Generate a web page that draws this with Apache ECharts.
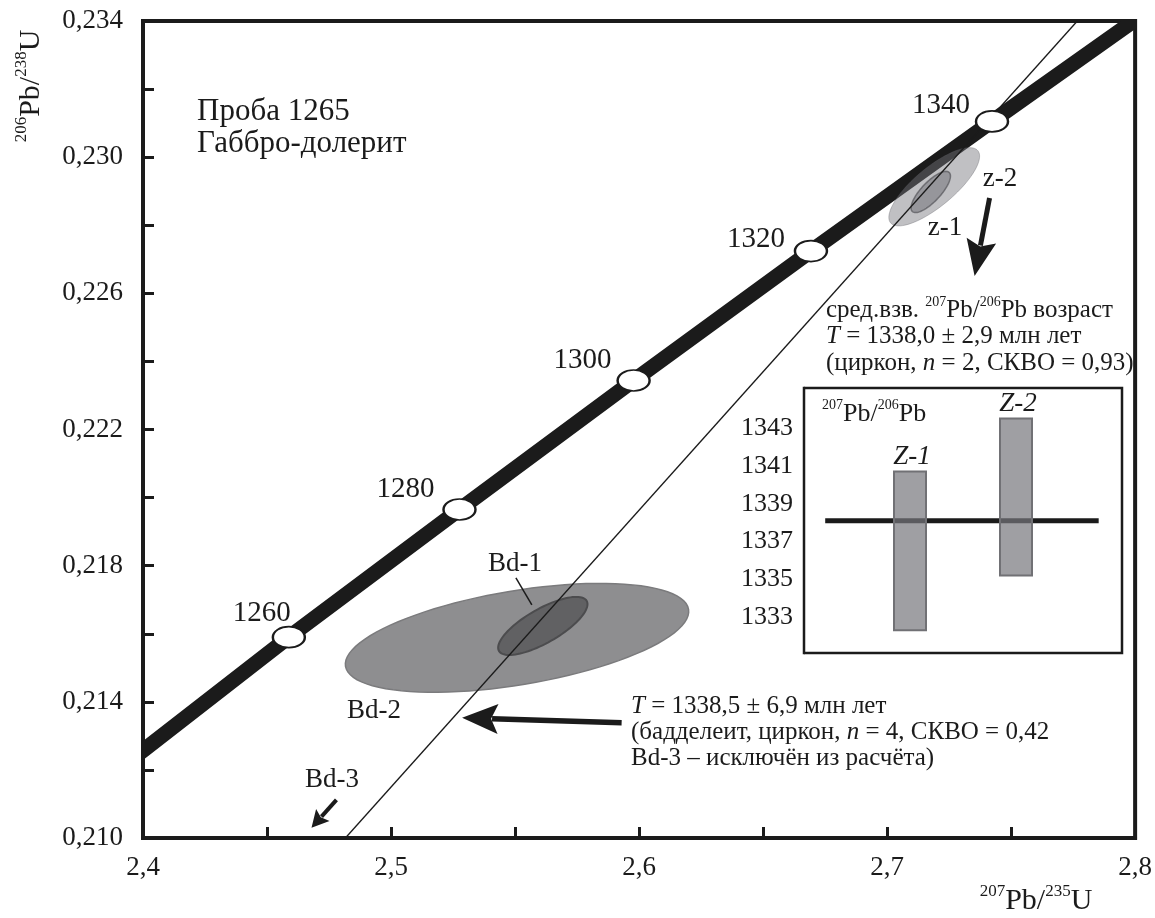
<!DOCTYPE html>
<html><head><meta charset="utf-8">
<script src="https://cdn.jsdelivr.net/npm/echarts@6/dist/echarts.min.js"></script>
<style>html,body{margin:0;padding:0;background:#fff}#c{width:1155px;height:918px}</style>
</head><body><div id="c"></div>
<script>
// ---------------- data ----------------
// Concordia curve points (207Pb/235U , 206Pb/238U)
const concordiaX = [2.39, 2.400, 2.4588, 2.5276, 2.5978, 2.6693, 2.7423, 2.800, 2.81];
const concordiaY = [0.21200, 0.21257, 0.21590, 0.21965, 0.22344, 0.22724, 0.23105, 0.23403, 0.23455];
// Age marks on the concordia (Ma)
const ageLabels = [1260, 1280, 1300, 1320, 1340];
const ageX = [2.4588, 2.5276, 2.5978, 2.6693, 2.7423];
const ageY = [0.21590, 0.21965, 0.22344, 0.22724, 0.23105];
// Discordia line
const discordiaX = [2.4816, 2.7767];
const discordiaY = [0.2100, 0.2340];
// Error ellipses: centre, semi-axis 1 (dx,dy), semi-axis 2 (dx,dy) in data units
const ellipseNames = ['Bd-2', 'Bd-1', 'z-2', 'z-1'];
const ellipseCx = [2.5508, 2.5612, 2.7190, 2.7176];
const ellipseCy = [0.21588, 0.21623, 0.229130, 0.228978];
const ellipseAx = [0.06915, 0.01769, 0.01760, 0.00744];
const ellipseAy = [0.000837, 0.000734, 0.001060, 0.000573];
const ellipseBx = [0.00310, 0.00338, 0.00500, 0.00280];
const ellipseBy = [-0.001363, -0.000435, -0.000445, -0.000195];
// Tick labels
const xTickLabels = [2.4, 2.5, 2.6, 2.7, 2.8];
const yTickLabels = [0.210, 0.214, 0.218, 0.222, 0.226, 0.230, 0.234];
// Inset: 207Pb/206Pb ages
const insetNames = ['Z-1', 'Z-2'];
const insetPos = [1, 2];
const insetLow = [1332.3, 1335.2];
const insetHigh = [1340.7, 1343.5];
const insetMean = 1338.1;
const insetMeanSpan = [0.2, 2.78];
const insetTicks = [1333, 1335, 1337, 1339, 1341, 1343];

// ---------------- styles / layout ----------------
const FONT = "'Liberation Serif','Times New Roman',serif";
const INK = '#1b1b1b';
const ageLabelOffsets = [[-27, -24], [-54, -20], [-51, -20], [-55, -12], [-51, -16]];
const ellipseStyles = [
  { fill: '#8e8e90', stroke: '#7b7b7d', lineWidth: 1.5 },
  { fill: '#616163', stroke: '#4c4c4e', lineWidth: 2 },
  { fill: 'rgba(118,118,124,0.46)', stroke: 'rgba(95,95,100,0.35)', lineWidth: 1 },
  { fill: 'rgba(100,100,106,0.45)', stroke: 'rgba(70,70,75,0.6)', lineWidth: 1.5 }
];
// annotation arrows (tail -> tip) in data coordinates, head sizes in px
const arrowSpecs = [
  { from: [2.59297, 0.213383], to: [2.52864, 0.213530], head: 36, half: 15, notch: 7, width: 5.5 },
  { from: [2.74131, 0.228802], to: [2.73528, 0.226511], head: 36, half: 15, notch: 6, width: 5 },
  { from: [2.47799, 0.211122], to: [2.46794, 0.210300], head: 17, half: 9, notch: 3, width: 4 },
  { from: [2.55035, 0.217638], to: [2.55678, 0.216845], head: 0, half: 0, notch: 0, width: 1.5 }
];

function near(v, arr) { return arr.some(a => Math.abs(a - v) < 1e-7); }

function ellipseSeries(idx, z) {
  return {
    type: 'custom', xAxisIndex: 0, yAxisIndex: 0, z: z, silent: true,
    data: idx.map(i => [ellipseCx[i], ellipseCy[i], i]),
    encode: { x: 0, y: 1 },
    renderItem: function (params, api) {
      const i = api.value(2);
      const pts = [];
      const N = 96;
      for (let k = 0; k < N; k++) {
        const t = 2 * Math.PI * k / N;
        const c = Math.cos(t), s = Math.sin(t);
        pts.push(api.coord([
          ellipseCx[i] + ellipseAx[i] * c + ellipseBx[i] * s,
          ellipseCy[i] + ellipseAy[i] * c + ellipseBy[i] * s
        ]));
      }
      return { type: 'polygon', shape: { points: pts }, style: ellipseStyles[i] };
    }
  };
}

function polylineSeries(xs, ys, width, z) {
  return {
    type: 'custom', xAxisIndex: 0, yAxisIndex: 0, z: z, silent: true, clip: true,
    data: xs.map((x, i) => [x, ys[i]]),
    encode: { x: 0, y: 1 },
    renderItem: function (params, api) {
      if (params.dataIndex !== 0) return null;
      const pts = xs.map((x, i) => api.coord([x, ys[i]]));
      return { type: 'polyline', shape: { points: pts },
        style: { stroke: INK, lineWidth: width, fill: null, lineCap: 'butt', lineJoin: 'round' } };
    }
  };
}

const chart = echarts.init(document.getElementById('c'), null, { renderer: 'canvas' });

const supRich = (main, sup) => ({
  m: { fontFamily: FONT, fontSize: main, lineHeight: main + 3, fill: INK, verticalAlign: 'bottom' },
  s: { fontFamily: FONT, fontSize: sup, lineHeight: sup, fill: INK, verticalAlign: 'top' },
  i: { fontFamily: FONT, fontSize: main, lineHeight: main + 3, fill: INK, fontStyle: 'italic', verticalAlign: 'bottom' }
});

function label(x, y, text, size) {
  return {
    type: 'text', x: x, y: y, z: 100, silent: true,
    style: { text: text, fontFamily: FONT, fontSize: size, fill: INK, align: 'center', verticalAlign: 'middle' }
  };
}
function txt(x, y, text, size) {
  return {
    type: 'text', x: x, y: y, z: 100, silent: true,
    style: { text: text, fontFamily: FONT, fontSize: size, fill: INK, align: 'left', verticalAlign: 'middle' }
  };
}
function rich(x, y, text, main, sup, align, rotation) {
  return {
    type: 'text', x: x, y: y, z: 100, silent: true, rotation: rotation || 0,
    style: { text: text, rich: supRich(main, sup), fontFamily: FONT, fontSize: main, fill: INK,
      align: align || 'left', verticalAlign: 'middle' }
  };
}

const option = {
  backgroundColor: '#ffffff',
  animation: false,
  grid: [
    { left: 143, top: 21, width: 995, height: 817, show: true, borderColor: INK, borderWidth: 4, backgroundColor: 'transparent' },
    { left: 804, top: 388, width: 318, height: 265, show: true, borderColor: INK, borderWidth: 2.5, backgroundColor: '#ffffff', z: 1 }
  ],
  xAxis: [
    {
      type: 'value', gridIndex: 0, min: 2.4, max: 2.8, interval: 0.05,
      axisLine: { show: true, onZero: false, lineStyle: { color: INK, width: 4 } },
      axisTick: { show: true, inside: true, length: 11, lineStyle: { color: INK, width: 3 } },
      axisLabel: {
        show: true, margin: 16, fontFamily: FONT, fontSize: 27, color: INK,
        formatter: v => near(v, xTickLabels) ? v.toFixed(1).replace('.', ',') : ''
      },
      splitLine: { show: false }
    },
    { type: 'value', gridIndex: 1, min: 0, max: 3, show: false, splitLine: { show: false } }
  ],
  yAxis: [
    {
      type: 'value', gridIndex: 0, min: 0.210, max: 0.234, interval: 0.002,
      axisLine: { show: true, onZero: false, lineStyle: { color: INK, width: 4 } },
      axisTick: { show: true, inside: true, length: 11, lineStyle: { color: INK, width: 3 } },
      axisLabel: {
        show: true, margin: 20, fontFamily: FONT, fontSize: 27, color: INK,
        formatter: v => near(v, yTickLabels) ? v.toFixed(3).replace('.', ',') : ''
      },
      splitLine: { show: false }
    },
    {
      type: 'value', gridIndex: 1, min: 1331.1, max: 1345.12,
      axisLine: { show: true, onZero: false, lineStyle: { color: INK, width: 2.5 } },
      axisTick: { show: true, inside: true, length: 8, lineStyle: { color: INK, width: 2.5 }, customValues: insetTicks },
      axisLabel: { show: true, margin: 11, fontFamily: FONT, fontSize: 26, color: INK, customValues: insetTicks,
        formatter: v => String(Math.round(v)) },
      splitLine: { show: false }
    }
  ],
  series: [
    ellipseSeries([0, 1], 2),
    polylineSeries(concordiaX, concordiaY, 15, 3),
    ellipseSeries([2, 3], 4),
    {
      type: 'line', xAxisIndex: 0, yAxisIndex: 0, z: 5, silent: true, showSymbol: false, clip: true,
      data: discordiaX.map((x, i) => [x, discordiaY[i]]),
      lineStyle: { color: INK, width: 1.3 }
    },
    {
      type: 'scatter', xAxisIndex: 0, yAxisIndex: 0, z: 6, silent: true,
      symbol: 'circle', symbolSize: [32, 21],
      itemStyle: { color: '#ffffff', borderColor: INK, borderWidth: 2, opacity: 1 },
      data: ageLabels.map((a, i) => ({
        value: [ageX[i], ageY[i], a],
        label: { offset: ageLabelOffsets[i] }
      })),
      label: {
        show: true, position: 'inside', formatter: p => String(p.value[2]),
        fontFamily: FONT, fontSize: 29, color: INK, align: 'center', verticalAlign: 'middle'
      }
    },
    {
      type: 'custom', xAxisIndex: 0, yAxisIndex: 0, z: 7, silent: true,
      data: arrowSpecs.map((a, i) => [a.from[0], a.from[1], a.to[0], a.to[1], i]),
      encode: { x: [0, 2], y: [1, 3] },
      renderItem: function (params, api) {
        const a = arrowSpecs[api.value(4)];
        const p1 = api.coord(a.from), p2 = api.coord(a.to);
        let dx = p2[0] - p1[0], dy = p2[1] - p1[1];
        const L = Math.sqrt(dx * dx + dy * dy); dx /= L; dy /= L;
        const nx = -dy, ny = dx;
        const back = a.head - a.notch;
        const shaftEnd = [p2[0] - dx * (a.head > 0 ? back + 1 : 0), p2[1] - dy * (a.head > 0 ? back + 1 : 0)];
        const children = [{
          type: 'line', shape: { x1: p1[0], y1: p1[1], x2: shaftEnd[0], y2: shaftEnd[1] },
          style: { stroke: INK, lineWidth: a.width }
        }];
        if (a.head > 0) {
          children.push({
            type: 'polygon', shape: {
              points: [
                p2,
                [p2[0] - dx * a.head + nx * a.half, p2[1] - dy * a.head + ny * a.half],
                [p2[0] - dx * back, p2[1] - dy * back],
                [p2[0] - dx * a.head - nx * a.half, p2[1] - dy * a.head - ny * a.half]
              ]
            }, style: { fill: INK }
          });
        }
        return { type: 'group', children: children };
      }
    },
    {
      type: 'line', xAxisIndex: 1, yAxisIndex: 1, z: 2, silent: true, showSymbol: false,
      data: insetMeanSpan.map(x => [x, insetMean]),
      lineStyle: { color: INK, width: 5 }
    },
    {
      type: 'custom', xAxisIndex: 1, yAxisIndex: 1, z: 3, silent: true,
      data: insetPos.map((x, i) => [x, insetLow[i], insetHigh[i], i]),
      encode: { x: 0, y: [1, 2] },
      renderItem: function (params, api) {
        const x = api.value(0), lo = api.value(1), hi = api.value(2), i = api.value(3);
        const pt = api.coord([x, hi]), pb = api.coord([x, lo]);
        const w = 32;
        return {
          type: 'group', children: [
            { type: 'rect', shape: { x: pt[0] - w / 2, y: pt[1], width: w, height: pb[1] - pt[1] },
              style: { fill: 'rgba(118,118,124,0.70)', stroke: '#717175', lineWidth: 2 } },
            { type: 'text', x: pt[0] + 2, y: pt[1] - 1,
              style: { text: insetNames[i], fontFamily: FONT, fontSize: 27, fontStyle: 'italic', fill: INK, align: 'center', verticalAlign: 'bottom' } }
          ]
        };
      }
    }
  ],
  graphic: [
    txt(197, 112, 'Проба 1265', 31),
    txt(197, 144, 'Габбро-долерит', 31),
    rich(826, 309, '{m|сред.взв. }{s|207}{m|Pb/}{s|206}{m|Pb возраст}', 25, 14),
    rich(826, 335, '{i|T}{m| = 1338,0 ± 2,9 млн лет}', 25, 14),
    rich(826, 362, '{m|(циркон, }{i|n}{m| = 2, СКВО = 0,93)}', 25, 14),
    rich(631, 705, '{i|T}{m| = 1338,5 ± 6,9 млн лет}', 25, 14),
    rich(631, 731, '{m|(бадделеит, циркон, }{i|n}{m| = 4, СКВО = 0,42}', 25, 14),
    rich(631, 757, '{m|Bd-3 – исключён из расчёта)}', 25, 14),
    rich(822, 413, '{s|207}{m|Pb/}{s|206}{m|Pb}', 26, 14),
    label(515, 564, 'Bd-1', 27),
    label(374, 711, 'Bd-2', 27),
    label(332, 780, 'Bd-3', 27),
    label(1000, 179, 'z-2', 27),
    label(945, 228, 'z-1', 27),
    rich(30, 86, '{s|206}{m|Pb/}{s|238}{m|U}', 30, 17, 'center', Math.PI / 2),
    rich(1036, 900, '{s|207}{m|Pb/}{s|235}{m|U}', 30, 17, 'center', 0)
  ]
};
chart.setOption(option);
</script>
</body></html>
